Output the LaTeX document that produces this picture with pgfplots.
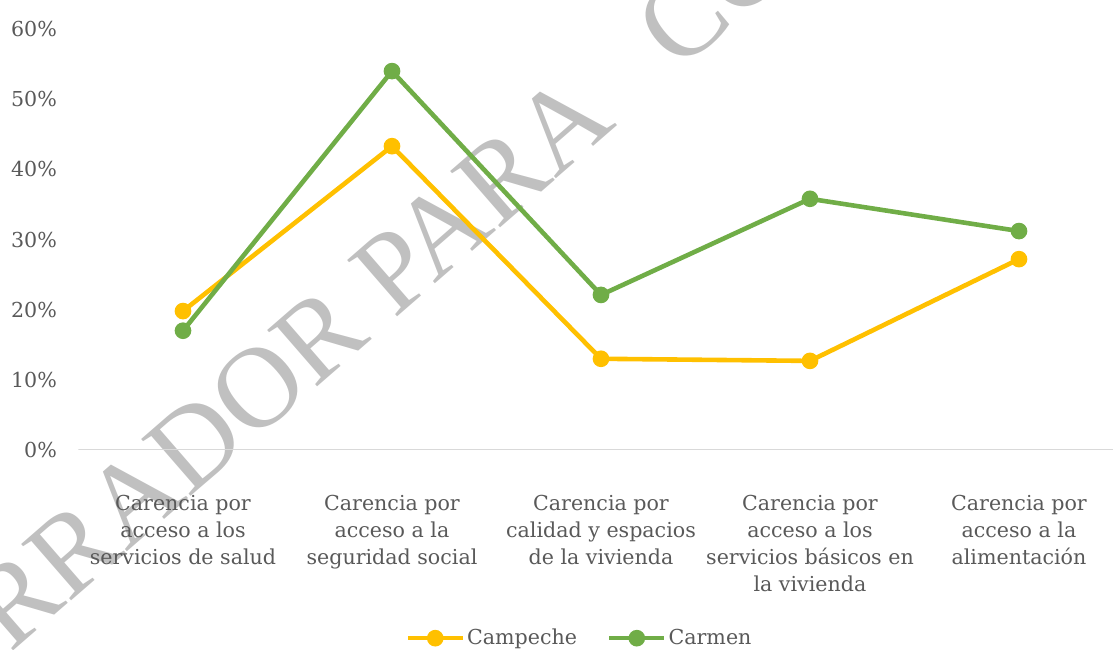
\documentclass[border=0pt]{standalone}
\usepackage{fontspec}
\setmainfont{DejaVu Serif}
\newfontfamily\wmfont{Liberation Serif}
\usepackage{pgfplots}
\pgfplotsset{compat=1.18}
\usetikzlibrary{calc}

\definecolor{cyellow}{HTML}{FFC000}
\definecolor{cgreen}{HTML}{70AD47}
\definecolor{ctext}{HTML}{595959}
\definecolor{cgrid}{HTML}{D9D9D9}
\definecolor{cwm}{HTML}{C0C0C0}

\newcommand{\lblfont}{\fontsize{10.3bp}{13.5bp}\selectfont}

\begin{document}
\begin{tikzpicture}
\useasboundingbox (0,0) rectangle (556.5bp,325bp);

% marca de agua
\node[rotate=41, anchor=base west, inner sep=0, text=cwm,
      font=\wmfont\fontsize{57.5bp}{60bp}\selectfont]
  at (197bp,165bp) {PARA\hspace{0.7em}CONSULTA};
\node[rotate=41, anchor=base east, inner sep=0, text=cwm,
      font=\wmfont\fontsize{57.5bp}{60bp}\selectfont]
  at (186.2bp,155.6bp) {BORRADOR};

\begin{axis}[
    at={(39.25bp,100bp)}, anchor=south west,
    scale only axis,
    width=522.5bp, height=210.5bp,
    xmin=-0.5, xmax=4.5,
    ymin=0, ymax=60,
    xtick=data,
    xticklabels={
      {Carencia por\\acceso a los\\servicios de salud},
      {Carencia por\\acceso a la\\seguridad social},
      {Carencia por\\calidad y espacios\\de la vivienda},
      {Carencia por\\acceso a los\\servicios básicos en\\la vivienda},
      {Carencia por\\acceso a la\\alimentación}},
    ytick={0,10,...,60},
    yticklabel={\pgfmathprintnumber{\tick}\%},
    /pgf/number format/assume math mode=true,
    major tick length=0pt,
    axis line style={draw=none},
    xticklabel style={align=center, anchor=north, yshift=-19bp, font=\lblfont, text=ctext},
    yticklabel style={anchor=east, xshift=-7.3bp, font=\lblfont, text=ctext},
    legend columns=2,
    legend style={at={(0.3125,-0.447)}, anchor=west, draw=none, fill=none,
                  inner sep=0pt, font=\lblfont, text=ctext,
                  nodes={inner xsep=1bp},
                  /tikz/every even column/.append style={column sep=14bp}},
    legend image code/.code={
      \draw[mark repeat=2, mark phase=2, #1]
        plot coordinates {(0bp,0bp) (13.75bp,0bp) (27.5bp,0bp)};
    },
]
\draw[cgrid, line width=0.75bp] (rel axis cs:0,0) -- (rel axis cs:1,0);

\addplot[cyellow, line width=2.3bp, mark=*, mark size=3bp, mark options={fill=cyellow, draw=none}]
  coordinates {(0,19.8) (1,43.3) (2,13.0) (3,12.7) (4,27.2)};
\addlegendentry{Campeche}

\addplot[cgreen, line width=2.3bp, mark=*, mark size=3bp, mark options={fill=cgreen, draw=none}]
  coordinates {(0,17.0) (1,54.0) (2,22.1) (3,35.8) (4,31.2)};
\addlegendentry{Carmen}
\end{axis}
\end{tikzpicture}
\end{document}
